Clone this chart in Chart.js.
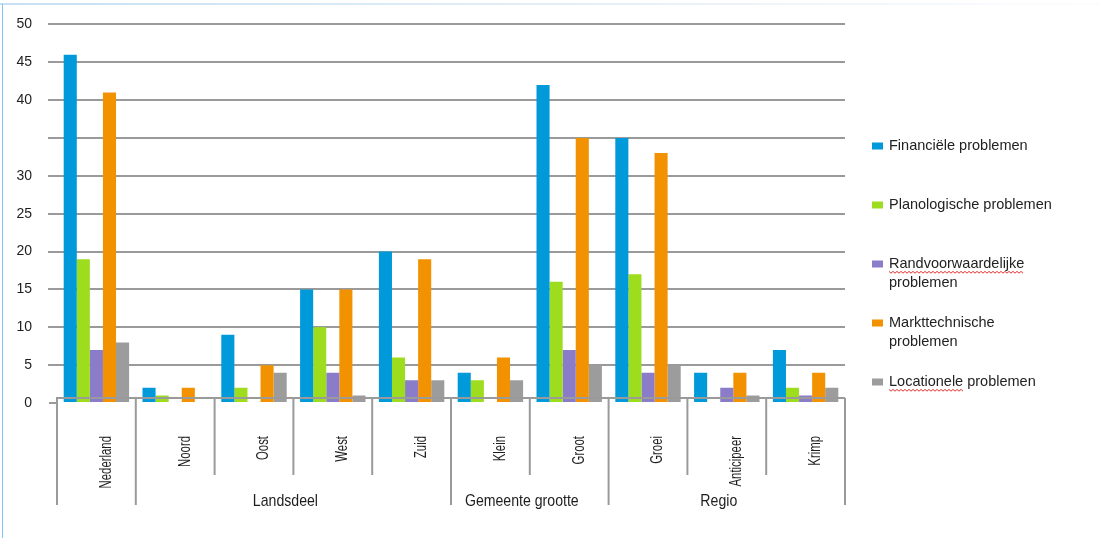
<!DOCTYPE html>
<html>
<head>
<meta charset="utf-8">
<script src="https://cdn.jsdelivr.net/npm/chart.js@4/dist/chart.umd.min.js"></script>
<style>
  html, body { margin: 0; padding: 0; background: #ffffff; }
  canvas { display: block; }
</style>
</head>
<body>
<canvas id="c" width="1100" height="538"></canvas>
<script>
// Categories along the x axis and the groups they belong to
const categories = ['Nederland', 'Noord', 'Oost', 'West', 'Zuid', 'Klein', 'Groot', 'Groei', 'Anticipeer', 'Krimp'];
const groupLabels = ['Landsdeel', 'Gemeente grootte', 'Regio'];
const groupStart = [1, 5, 7];
const groupEnd = [4, 6, 9];

// Series values per category
const financieel = [46, 2, 9, 15, 20, 4, 42, 35, 4, 7];
const planologisch = [19, 1, 2, 10, 6, 3, 16, 17, 0, 2];
const randvoorwaardelijk = [7, 0, 0, 4, 3, 0, 7, 4, 2, 1];
const markttechnisch = [41, 2, 5, 15, 19, 6, 35, 33, 4, 4];
const locationeel = [8, 0, 4, 1, 3, 3, 5, 5, 1, 2];

// Series names (legend lines)
const seriesNames = [
  ['Financiële problemen'],
  ['Planologische problemen'],
  ['Randvoorwaardelijke', 'problemen'],
  ['Markttechnische', 'problemen'],
  ['Locationele problemen']
];
const flaggedWords = ['Randvoorwaardelijke', 'Locationele'];

// Y axis tick labels (35 has no label)
const yTicks = [0, 5, 10, 15, 20, 25, 30, 35, 40, 45, 50];
const yTickLabels = ['0', '5', '10', '15', '20', '25', '30', '', '40', '45', '50'];

const colors = ['#0099d9', '#9edc1e', '#8a7cc9', '#f39200', '#9c9c9c'];
const seriesValues = [financieel, planologisch, randvoorwaardelijk, markttechnisch, locationeel];

const SANS = '"Liberation Sans", Arial, sans-serif';

// draws text squeezed horizontally (condensed look)
function condensedText(ctx, text, x, y, squeeze, rotate) {
  ctx.save();
  ctx.translate(x, y);
  if (rotate) ctx.rotate(-Math.PI / 2);
  ctx.scale(squeeze, 1);
  ctx.fillText(text, 0, 0);
  ctx.restore();
}

const decorations = {
  id: 'decorations',
  afterDatasetsDraw(chart) {
    const { ctx, chartArea: a, scales: { x, y } } = chart;
    const zero = y.getPixelForValue(0);
    const axisY = zero - 5;
    const step = (a.right - a.left) / categories.length;

    ctx.save();
    ctx.strokeStyle = '#9a9a9a';
    ctx.lineWidth = 2;

    // baseline and zero tick mark
    ctx.beginPath();
    ctx.moveTo(a.left - 8, zero);
    ctx.lineTo(a.left, zero);
    ctx.lineTo(a.left, axisY);
    ctx.lineTo(a.right, axisY);
    ctx.stroke();

    // category dividers: long ones at group boundaries
    const longAt = [0, ...groupStart, categories.length];
    for (let i = 0; i <= categories.length; i++) {
      const xp = i === categories.length ? a.right : x.getPixelForValue(i) - step / 2;
      const long = longAt.includes(i);
      ctx.beginPath();
      ctx.moveTo(xp, axisY);
      ctx.lineTo(xp, long ? zero + 102 : zero + 72);
      ctx.stroke();
    }

    // rotated category labels
    ctx.fillStyle = '#1e1e1e';
    ctx.font = '16px ' + SANS;
    ctx.textBaseline = 'middle';
    ctx.textAlign = 'right';
    categories.forEach((name, i) => {
      condensedText(ctx, name, x.getPixelForValue(i) + 10, zero + 33, 0.71, true);
    });

    // group labels
    ctx.font = '17px ' + SANS;
    ctx.textAlign = 'center';
    ctx.textBaseline = 'alphabetic';
    groupLabels.forEach((g, k) => {
      const cx = (x.getPixelForValue(groupStart[k]) + x.getPixelForValue(groupEnd[k])) / 2 - 8;
      condensedText(ctx, g, cx, zero + 103, 0.83, false);
    });

    // legend
    const lx = 872;
    let ly = 146;
    ctx.font = '14.5px ' + SANS;
    ctx.textAlign = 'left';
    ctx.textBaseline = 'middle';
    seriesNames.forEach((lines, k) => {
      ctx.fillStyle = colors[k];
      ctx.fillRect(lx, ly - 3.5, 11, 7);
      ctx.fillStyle = '#222222';
      lines.forEach((line, j) => {
        const ty = ly + j * 19;
        ctx.fillText(line, lx + 17, ty);
        flaggedWords.forEach(w => {
          const idx = line.indexOf(w);
          if (idx >= 0) {
            const x0 = lx + 17 + ctx.measureText(line.slice(0, idx)).width;
            const x1 = x0 + ctx.measureText(w).width;
            ctx.save();
            ctx.strokeStyle = '#e03030';
            ctx.lineWidth = 1;
            ctx.beginPath();
            for (let px = x0, s = 0; px <= x1; px += 2, s++) {
              const py = ty + 8 + (s % 2 ? 1.2 : -0.6);
              if (px === x0) ctx.moveTo(px, py); else ctx.lineTo(px, py);
            }
            ctx.stroke();
            ctx.restore();
          }
        });
      });
      ly += 59;
    });

    // thin blue frame at top and left
    const grad = ctx.createLinearGradient(0, 0, 1100, 0);
    grad.addColorStop(0, '#c6e0f3');
    grad.addColorStop(0.7, '#eef4fa');
    grad.addColorStop(1, '#fdfdfe');
    ctx.fillStyle = grad;
    ctx.fillRect(0, 3, 1100, 2);
    ctx.fillStyle = '#7cc6ee';
    ctx.fillRect(2, 4, 1, 534);

    ctx.restore();
  }
};

new Chart(document.getElementById('c'), {
  type: 'bar',
  data: {
    labels: categories,
    datasets: seriesValues.map((vals, k) => ({
      label: seriesNames[k].join(' '),
      data: vals,
      backgroundColor: colors[k],
      borderWidth: 0,
      categoryPercentage: 0.83,
      barPercentage: 1.0
    }))
  },
  options: {
    responsive: false,
    devicePixelRatio: 1,
    animation: false,
    layout: { padding: { left: 0, top: 23, right: 255, bottom: 135 } },
    plugins: {
      legend: { display: false },
      tooltip: { enabled: false }
    },
    scales: {
      x: {
        display: false
      },
      y: {
        min: 0,
        max: 50,
        afterFit(scale) { scale.width = 57; },
        afterBuildTicks(scale) { scale.ticks = yTicks.map(v => ({ value: v })); },
        border: { display: false },
        grid: {
          color: c => (c.tick && c.tick.value === 0 ? 'rgba(0,0,0,0)' : '#9a9a9a'),
          lineWidth: 2,
          tickLength: 9
        },
        ticks: {
          padding: 16,
          color: '#1e1e1e',
          font: { family: SANS, size: 14 },
          callback: (v) => yTickLabels[yTicks.indexOf(v)]
        }
      }
    }
  },
  plugins: [decorations]
});
</script>
</body>
</html>
